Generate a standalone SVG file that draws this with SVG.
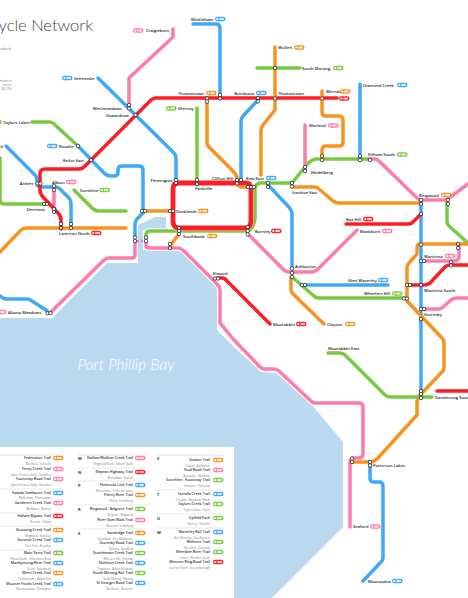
<svg xmlns="http://www.w3.org/2000/svg" width="468" height="598" viewBox="0 0 468 598">
<style>
text{font-family:"Open Sans","Noto Sans","Liberation Sans",sans-serif}
.t{font-size:4.15px;font-weight:600;fill:#1a1a1a}
.e{text-anchor:end}
.n{font-size:3.55px;fill:#333;text-anchor:end;font-weight:600}
.s{font-size:2.7px;fill:#777;text-anchor:end}
.h{font-size:4px;font-weight:700;fill:#333}
.sep{stroke:#ddd;stroke-width:.7;fill:none}
path.l{fill:none;stroke-width:3.5;stroke-linecap:round;stroke-linejoin:round}
path.k{fill:none;stroke:#fff;stroke-width:5.5;stroke-linecap:round;stroke-linejoin:round}
.blue{stroke:#3FA9F5}.red{stroke:#FF1D25}.pink{stroke:#FF7BAC}.green{stroke:#7AC943}.orange{stroke:#F7931E}
.st{fill:#fff;stroke:#111;stroke-width:.7}
</style>
<defs>
<g id="bb"><rect y="-2.200" width="10.500" height="4.400" rx="2.200" fill="#3FA9F5"/><circle cx="2.300" r="1.100" fill="#fff"/><rect x="4.300" y="-1.100" width="4.500" height="2.200" fill="#fff" opacity=".75"/></g>
<g id="br"><rect y="-2.200" width="10.500" height="4.400" rx="2.200" fill="#FF1D25"/><circle cx="2.300" r="1.100" fill="#fff"/><rect x="4.300" y="-1.100" width="4.500" height="2.200" fill="#fff" opacity=".75"/></g>
<g id="bp"><rect y="-2.200" width="10.500" height="4.400" rx="2.200" fill="#FF7BAC"/><circle cx="2.300" r="1.100" fill="#fff"/><rect x="4.300" y="-1.100" width="4.500" height="2.200" fill="#fff" opacity=".75"/></g>
<g id="bg"><rect y="-2.200" width="10.500" height="4.400" rx="2.200" fill="#7AC943"/><circle cx="2.300" r="1.100" fill="#fff"/><rect x="4.300" y="-1.100" width="4.500" height="2.200" fill="#fff" opacity=".75"/></g>
<g id="bo"><rect y="-2.200" width="10.500" height="4.400" rx="2.200" fill="#F7931E"/><circle cx="2.300" r="1.100" fill="#fff"/><rect x="4.300" y="-1.100" width="4.500" height="2.200" fill="#fff" opacity=".75"/></g>
<circle id="o" r="1.750" class="st"/>
</defs>
<rect width="468" height="598" fill="#fff"/>
<polygon id="water" points="0,318 52,318 107,263 138,263 138,225 155,217 166,217 166,228 143,230 143,250 182,251 217,287 217,330 234,347 261,372 276,373 312,405 343,442 343,527 272,598 0,598" fill="#BBDAF0"/>
<rect id="legend-panel" x="0" y="447" width="234" height="151" fill="#fff"/>
<text x="126" y="370" text-anchor="middle" font-size="15.800" font-style="italic" fill="#fff" style="font-family:Lato,'Open Sans',sans-serif;font-weight:300">Port Phillip Bay</text>
<text x="93" y="30.500" text-anchor="end" font-size="16.500" fill="#444" style="font-family:Lato,'Open Sans',sans-serif;font-weight:300">Bicycle Network</text>
<text x="11" y="49.500" text-anchor="end" font-size="3.600" fill="#777">suburb</text>
<text x="11.500" y="82" text-anchor="end" font-size="2.600" fill="#777">mation on</text>
<text x="11.500" y="85.800" text-anchor="end" font-size="2.600" fill="#777">ioneers</text>
<text x="11.500" y="89.600" text-anchor="end" font-size="2.600" fill="#777">942, 354</text>

<g id="connectors">
<path class="l blue" d="M193 24H216Q220 24 220 28V98"/>
<path class="l pink" d="M173 29V37L129 78V107"/>
<path class="l blue" d="M98 78L174 153Q176 155 176 159V182"/>
<path class="l green" d="M32 122H50Q52 122 54 124L78 146"/>
<path class="l blue" d="M78 146L104 173Q107 176 111 176H114Q118 176 118 172V170Q118 166 122 166H139Q143 166 143 170V213L137 219Q135 221 135 225V240"/>
<path class="l blue" d="M6 146L35 175Q37 177 37 180V183Q37 187 41 187H56Q58 187 60 189L69 198Q71 200 71 204V226"/>
<path class="l pink" d="M54 187V211"/>
<path class="l green" d="M0 158V200Q0 204 4 204H46"/>
<path class="l green" d="M74 190L92 208Q95 211 99 211H126"/>
<path class="l orange" d="M0 252L21 230Q23 228 27 228H126"/>
<path class="l blue" d="M0 296L3 298Q4 299 7 299H27Q30 299 32 301L49 312"/>
<path class="k" d="M50 313L104 260Q106 258 109 258H132Q135 258 135 255V240"/>
<path class="l pink" d="M50 313L104 260Q106 258 109 258H132Q135 258 135 255V240"/>
<path class="l pink" stroke-dasharray="2 2" style="stroke-width:2.6;stroke-linecap:butt" d="M137 241H145"/>
<path class="k" d="M146 242V245Q146 248 149 248H178Q181 248 184 251L217 284Q220 287 220 291V323L234 340L260 367Q262 369 265 369H274Q277 369 279 371L312 402Q313 403 316 403H359Q363 403 363 407V454Q363 458 359 458H354Q350 458 350 462V527"/>
<path class="l pink" d="M146 242V245Q146 248 149 248H178Q181 248 184 251L217 284Q220 287 220 291V323L234 340L260 367Q262 369 265 369H274Q277 369 279 371L312 402Q313 403 316 403H359Q363 403 363 407V454Q363 458 359 458H354Q350 458 350 462V527"/>
<path class="l orange" d="M143 211H172"/>
<path class="k" d="M146 238V235Q146 231 150 231H246Q251 231 253 226Q255 222 255 218V189Q255 184 260 183H292L305 167Q310 160 316 159H370"/>
<path class="l green" d="M146 238V235Q146 231 150 231H246Q251 231 253 226Q255 222 255 218V189Q255 184 260 183H292L305 167Q310 160 316 159H370"/>
<path class="l pink" d="M370 159H375Q377 159 379 161L417 198Q419 200 422 200H445Q447 200 449 198L468 184"/>
<path class="l orange" d="M170 246L179 234"/>
<path class="l green" d="M197 108V182"/>
<path class="l orange" d="M207 98V143Q207 145 209 147L233 171Q237 175 237 179V183Q238 187 243 187H250"/>
<path class="l blue" d="M258 100L243 116Q241 118 241 122V183"/>
<path class="k" d="M179 183H245Q251 183 251 189V221Q251 228 245 228H179Q173 228 173 221V189Q173 183 179 183Z"/>
<path class="l red" style="stroke-width:4.800" d="M179 183H245Q251 183 251 189V221Q251 228 245 228H179Q173 228 173 221V189Q173 183 179 183Z"/>
<path class="l red" d="M337 98H156Q153 98 151 100L91 160L84 167Q82 169 79 169H45Q40 169 40 174V190Q40 194 43 197L58 213Q61 216 61 220V229"/>
<path class="l blue" d="M268 185L287 205Q292 210 292 214V268"/>
<path class="l orange" d="M292 187H314Q317 187 319 189L333 201Q336 203 339 203H421"/>
<path class="l pink" d="M305 125V170"/>
<path class="l orange" d="M275 47V110L263 125Q261 127 261 131V175"/>
<path class="l green" d="M257 68H300"/>
<path class="l orange" d="M322 91V112Q322 116 326 116H339Q343 116 343 120V142Q343 146 339 146H326Q322 146 322 150V160"/>
<path class="l blue" d="M360 84V160"/>
<path class="l blue" d="M421 200V398"/>
<path class="l red" d="M346 224H409Q411 224 413 222L421 214"/>
<path class="l pink" d="M357 230L317 270Q314 272 311 272H290Q286 272 284 270L249 235"/>
<path class="l green" d="M292 277L314 296Q316 298 319 298H405"/>
<path class="l blue" d="M304 285H388"/>
<path class="l orange" d="M291 277V290Q291 292 293 294L324 324"/>
<path class="l red" d="M217 278H222Q225 278 227 281L270 324"/>
<path class="l orange" d="M421 244H420Q417 244 417 248V254L409 263Q407 265 407 268V301L442 338Q444 340 444 343V368Q444 370 442 372L421 394L419 396Q417 398 417 402V415L378 458Q374 462 370 462H353"/>
<path class="l blue" d="M370 463V478Q370 482 374 482H379Q383 482 383 486V558Q383 560 381 562L363 581"/>
<path class="l red" d="M437 391H468"/>
<path class="l green" d="M328 353H340Q343 353 345 355L385 395Q387 397 391 397H432"/>
<path class="l green" d="M447 202V222Q447 224 449 226L468 243"/>
<path class="l red" d="M408 285H424Q427 285 430 283L445 267Q447 265 450 265H468"/>
<path class="l pink" d="M422 261H454Q459 261 459 256V245"/>
<path class="l pink" d="M422 309H439Q441 309 443 307L451 300Q454 298 457 298H468"/>
<path class="l orange" d="M421 244H468"/>
</g>

<g id="stations-map">
<g id="n-mickleham"><text class="t e" x="213" y="20.600">Mickleham</text><use href="#bb" x="215" y="19"/><use href="#o" x="220" y="95"/><use href="#o" x="220" y="98.500"/></g>
<g id="n-craigieburn"><use href="#bp" x="133" y="30.500"/><text class="t" x="146" y="32">Craigieburn</text></g>
<g id="n-greenvale"><use href="#bb" x="62" y="78"/><text class="t" x="74" y="79.600">Greenvale</text></g>
<g id="n-westmeadows"><text class="t e" x="122" y="110">Westmeadows</text><use href="#o" x="129" y="105"/><use href="#o" x="129" y="108.500"/></g>
<g id="n-gowanbrae"><text class="t e" x="129" y="117">Gowanbrae</text><use href="#o" x="135.500" y="115"/></g>
<g id="n-taylors"><use href="#bg" x="-9" y="122"/><text class="t" x="3" y="123.600">Taylors Lakes</text></g>
<g id="n-rosalie"><use href="#bb" x="47" y="146"/><text class="t" x="59" y="147.600">Rosalie</text><use href="#o" x="78" y="146"/></g>
<g id="n-park"><text class="t e" x="3" y="147.600">Park</text></g>
<g id="n-keilor"><text class="t e" x="84" y="161.600">Keilor East</text><use href="#o" x="91" y="160"/></g>
<g id="n-ardeer"><text class="t e" x="33.500" y="184.600">Ardeer</text><use href="#o" x="37.500" y="183.500"/><use href="#o" x="40.500" y="183.500"/></g>
<g id="n-albion"><text class="t" x="52" y="183.600">Albion</text><use href="#bp" x="66" y="182"/><use href="#o" x="54" y="186"/><use href="#o" x="54" y="190"/></g>
<g id="n-sunshine"><text class="t" x="80" y="191.600">Sunshine</text><use href="#bg" x="99.500" y="190"/></g>
<g id="n-derrimut"><text class="t e" x="45" y="210.600">Derrimut</text><use href="#o" x="44" y="204"/><use href="#o" x="47" y="204"/><use href="#o" x="54" y="209"/><use href="#o" x="54" y="212"/></g>
<g id="n-laverton"><use href="#o" x="61" y="224"/><use href="#o" x="61" y="228"/><use href="#o" x="71" y="224"/><use href="#o" x="71" y="228"/><text class="t" x="59" y="234.600">Laverton North</text><use href="#br" x="91" y="233"/></g>
<g id="n-altona"><use href="#bp" x="-4" y="312"/><text class="t" x="8" y="313.600">Altona Meadows</text><use href="#o" x="47.500" y="313"/><use href="#o" x="50.500" y="313"/></g>
<g id="n-yarraville"><use href="#o" x="135" y="237.500"/><use href="#o" x="135" y="241"/><use href="#o" x="146" y="237.500"/><use href="#o" x="146" y="241"/></g>
<g id="n-docklands"><use href="#o" x="142" y="211"/><use href="#o" x="145" y="211"/><use href="#o" x="170" y="211"/><use href="#o" x="173" y="211"/><text class="t" x="176" y="212.600">Docklands</text><use href="#bo" x="198" y="211"/></g>
<g id="n-flemington"><text class="t e" x="173" y="181.600">Flemington</text><use href="#o" x="176" y="180"/><use href="#o" x="176" y="183"/></g>
<g id="n-parkville"><use href="#o" x="197" y="180"/><use href="#o" x="197" y="184"/><text class="t" x="195" y="189.600">Parkville</text></g>
<g id="n-glenroy"><use href="#bg" x="166" y="108.500"/><text class="t" x="178" y="110">Glenroy</text></g>
<g id="n-thomastown1"><text class="t e" x="204" y="94.600">Thomastown</text><use href="#bo" x="206" y="93"/><use href="#o" x="207" y="98.500"/><use href="#o" x="207" y="101.500"/></g>
<g id="n-clifton"><text class="t e" x="233" y="179.600">Clifton Hill</text><use href="#o" x="237" y="180"/><use href="#o" x="237" y="183.500"/><use href="#o" x="241" y="180"/></g>
<g id="n-keweast"><text class="t" x="246" y="179.600">Kew East</text><use href="#bb" x="266" y="178"/><use href="#o" x="248" y="187"/><use href="#o" x="251" y="187"/><use href="#o" x="254" y="187"/><use href="#o" x="268" y="183"/><use href="#o" x="268" y="187"/></g>
<g id="n-bundoora"><text class="t e" x="254" y="94.600">Bundoora</text><use href="#bb" x="256" y="93"/><use href="#o" x="258" y="98"/><use href="#o" x="258" y="101.500"/></g>
<g id="n-thomastown2"><text class="t" x="278" y="95">Thomastown</text><use href="#o" x="275" y="98.500"/></g>
<g id="n-wollert"><text class="t" x="278" y="49">Wollert</text><use href="#bo" x="294" y="47.500"/></g>
<g id="n-southmorang"><text class="t" x="302" y="69.600">South Morang</text><use href="#bg" x="333" y="68"/><use href="#o" x="275" y="68"/></g>
<g id="n-mernda"><text class="t" x="326" y="93">Mernda</text><use href="#bo" x="340" y="91.500"/><use href="#o" x="322" y="98.500"/><use href="#br" x="339" y="98.500"/></g>
<g id="n-macleod"><text class="t" x="309" y="127">Macleod</text><use href="#bp" x="328" y="125.500"/></g>
<g id="n-heidelberg"><use href="#o" x="305" y="167"/><use href="#o" x="305" y="171"/><text class="t" x="311" y="173.600">Heidelberg</text></g>
<g id="n-ivanhoe"><use href="#o" x="292" y="183"/><use href="#o" x="292" y="186.500"/><text class="t" x="292" y="193.600">Ivanhoe East</text></g>
<g id="n-diamond"><text class="t" x="363" y="86.600">Diamond Creek</text><use href="#bb" x="397" y="85"/></g>
<g id="n-eltham"><use href="#o" x="322" y="156"/><use href="#o" x="322" y="160"/><use href="#o" x="360" y="156"/><use href="#o" x="360" y="160"/><use href="#o" x="370" y="160"/><text class="t" x="368" y="156">Eltham South</text><use href="#bg" x="397" y="154.500"/></g>
<g id="n-ringwood"><text class="t" x="419" y="196.600">Ringwood</text><use href="#bo" x="441" y="195"/><use href="#o" x="421" y="200"/><use href="#o" x="421" y="204"/><use href="#o" x="448" y="200"/><use href="#o" x="448" y="204"/></g>
<g id="n-boxhill"><text class="t" x="346" y="220.600">Box Hill</text><use href="#br" x="363" y="219"/><use href="#o" x="421" y="214"/></g>
<g id="n-blackburn"><text class="t" x="360" y="232.600">Blackburn</text><use href="#bp" x="382" y="231"/></g>
<g id="n-burnley"><use href="#o" x="247.700" y="227"/><use href="#o" x="247.700" y="231"/><use href="#o" x="247.700" y="234.500"/><text class="t" x="255" y="232.600">Burnley</text><use href="#br" x="271" y="231"/></g>
<g id="n-southbank"><use href="#o" x="179" y="228"/><use href="#o" x="179" y="231"/><use href="#o" x="179" y="234"/><use href="#o" x="170" y="244"/><use href="#o" x="170" y="248"/><text class="t" x="183" y="237.600">Southbank</text><use href="#bo" x="207" y="236"/></g>
<g id="n-ashburton"><text class="t" x="295" y="268">Ashburton</text><use href="#o" x="292" y="268.500"/><use href="#o" x="292" y="273"/><use href="#o" x="292" y="277"/></g>
<g id="n-glenwaverley"><text class="t" x="348" y="281.600">Glen Waverley</text><use href="#bb" x="378" y="280"/><use href="#o" x="302" y="285"/><use href="#o" x="305" y="285"/></g>
<g id="n-wheelers"><text class="t" x="364" y="295">Wheelers Hill</text><use href="#bg" x="392" y="293.500"/><use href="#o" x="404" y="298.500"/><use href="#o" x="407" y="298.500"/></g>
<g id="n-clayton"><text class="t" x="327" y="325.600">Clayton</text><use href="#bo" x="345" y="324"/></g>
<g id="n-moorabbin"><text class="t" x="273" y="325.600">Moorabbin</text><use href="#br" x="296" y="324"/></g>
<g id="n-elwood"><text class="t" x="213" y="275">Elwood</text><use href="#o" x="215" y="278.500"/><use href="#o" x="218" y="278.500"/></g>
<g id="n-wantirna"><text class="t" x="424" y="257.600">Wantirna</text><use href="#bp" x="445" y="256"/><use href="#o" x="421" y="244.500"/><use href="#o" x="458" y="244"/><use href="#o" x="458" y="248"/><use href="#o" x="421" y="261"/><use href="#o" x="424" y="261"/></g>
<g id="n-wantirnasouth"><text class="t" x="424" y="291.600">Wantirna South</text><use href="#o" x="451" y="262"/><use href="#o" x="451" y="265.500"/><use href="#o" x="407" y="285"/><use href="#o" x="410" y="285"/><use href="#o" x="421" y="285"/></g>
<g id="n-scoresby"><text class="t" x="424" y="315.600">Scoresby</text><use href="#o" x="421" y="309"/><use href="#o" x="424" y="309"/><use href="#o" x="421" y="319"/></g>
<g id="n-moorabbineast"><text class="t" x="328" y="349.600">Moorabbin East</text></g>
<g id="n-dandenong"><use href="#o" x="421" y="391"/><use href="#o" x="421" y="394"/><use href="#o" x="421" y="398"/><text class="t" x="435" y="399">Dandenong South</text></g>
<g id="n-patterson"><use href="#o" x="352" y="458.500"/><use href="#o" x="352" y="462"/><use href="#o" x="370" y="462"/><use href="#o" x="370" y="465.500"/><text class="t" x="373" y="467">Patterson Lakes</text></g>
<g id="n-seaford"><text class="t" x="353" y="528">Seaford</text><use href="#bp" x="370" y="526.500"/></g>
<g id="n-moorooduc"><text class="t" x="368" y="582.600">Moorooduc</text><use href="#bb" x="392" y="581"/></g>
</g>

<g id="legend">
<path class="sep" d="M0 455H64M0 489H64M0 513H64M0 526H64M0 550H64M78 455H146M78 468H146M78 481H146M78 505H146M78 529H146M157 455H224M157 490H224M157 514H224M157 528H224"/>
<text class="h" x="78" y="459.500">M</text><text class="h" x="78" y="473.500">N</text><text class="h" x="78" y="486.500">P</text><text class="h" x="78" y="510.500">R</text><text class="h" x="78" y="534.500">S</text>
<text class="h" x="157" y="459.500">S</text><text class="h" x="157" y="495.500">T</text><text class="h" x="157" y="519.500">U</text><text class="h" x="157" y="533.500">W</text>
<g id="leg-1">
<text class="n" x="51" y="459.400">Federation Trail</text><text class="s" x="51" y="465">Werribee - Yarraville</text><use href="#bo" x="53" y="458"/>
<text class="n" x="51" y="470.400">Ferny Creek Trail</text><text class="s" x="51" y="475.500">Upper Ferntree Gully - Sassafras</text><use href="#bp" x="53" y="469"/>
<text class="n" x="51" y="480.400">Footscray Road Trail</text><text class="s" x="51" y="485.500">Upper Ferntree Gully - Sassafras</text><use href="#bp" x="53" y="479"/>
<text class="n" x="51" y="494.400">Galada Tamboore Trail</text><text class="s" x="51" y="498.500">Mickleham - Thomastown</text><use href="#bb" x="53" y="493"/>
<text class="n" x="51" y="504.400">Gardiners Creek Trail</text><text class="s" x="51" y="509.500">Blackburn - Burnley</text><use href="#bp" x="53" y="503"/>
<text class="n" x="51" y="517.400">Hallam Bypass Trail</text><text class="s" x="51" y="522.500">Berwick - Hallam</text><use href="#br" x="53" y="516"/>
<text class="n" x="51" y="531.400">Koonung Creek Trail</text><text class="s" x="51" y="536.500">Ringwood - Kew East</text><use href="#bo" x="53" y="530"/>
<text class="n" x="51" y="541.400">Kororoit Creek Trail</text><text class="s" x="51" y="546.500">Deer Park - Brooklyn</text><use href="#bb" x="53" y="540"/>
<text class="n" x="51" y="554.400">Main Yarra Trail</text><text class="s" x="51" y="559.500">Eltham South - Fishermans Bend</text><use href="#bg" x="53" y="553"/>
<text class="n" x="51" y="564.400">Maribyrnong River Trail</text><text class="s" x="51" y="570">Keilor - Spotswood</text><use href="#bb" x="53" y="563"/>
<text class="n" x="51" y="574.400">Merri Creek Trail</text><text class="s" x="51" y="580">Thomastown - Abbotsford</text><use href="#bo" x="53" y="573"/>
<text class="n" x="51" y="585.400">Moonee Ponds Creek Trail</text><text class="s" x="51" y="590">Westmeadows - Flemington</text><use href="#bb" x="53" y="584"/>
</g>
<g id="leg-2">
<text class="n" x="133" y="459.400">Hallam/Mullum Creek Trail</text><text class="s" x="133" y="465">Ringwood North - Eltham South</text><use href="#bp" x="135" y="458"/>
<text class="n" x="133" y="473.400">Nepean Highway Trail</text><text class="s" x="133" y="478.500">Moorabbin - Elwood</text><use href="#br" x="135" y="472"/>
<text class="n" x="133" y="486.400">Peninsula Link Trail</text><text class="s" x="133" y="491.500">Moorooduc - Patterson Lakes</text><use href="#bb" x="135" y="485"/>
<text class="n" x="133" y="496.400">Plenty River Trail</text><text class="s" x="133" y="501.500">Plenty - Heidelberg</text><use href="#bo" x="135" y="495"/>
<text class="n" x="133" y="510.400">Ringwood - Belgrave Trail</text><text class="s" x="133" y="516">Belgrave - Ringwood</text><use href="#bg" x="135" y="509"/>
<text class="n" x="133" y="521.400">River Gum Walk Trail</text><text class="s" x="133" y="526.500">Macleod - Heidelberg</text><use href="#bp" x="135" y="520"/>
<text class="n" x="133" y="534.400">Sandridge Trail</text><text class="s" x="133" y="539.500">Southbank - Port Melbourne</text><use href="#bo" x="135" y="533"/>
<text class="n" x="133" y="544.400">Scoresby Road Trail</text><text class="s" x="133" y="550">Belcony - Knoxfield</text><use href="#bb" x="135" y="543"/>
<text class="n" x="133" y="554.400">Scotchmans Creek Trail</text><text class="s" x="133" y="560">Wheelers Hill - Hollyoak</text><use href="#bg" x="135" y="553"/>
<text class="n" x="133" y="564.400">Skeleton Creek Trail</text><text class="s" x="133" y="570">Truganina - Altona Meadows</text><use href="#bb" x="135" y="563"/>
<text class="n" x="133" y="574.400">South Morang Rail Trail</text><text class="s" x="133" y="580">South Morang - Mernda</text><use href="#bg" x="135" y="573"/>
<text class="n" x="133" y="584.400">St Georges Road Trail</text><text class="s" x="133" y="590">Northcote - Reservoir</text><use href="#bb" x="135" y="583"/>
</g>
<g id="leg-3">
<text class="n" x="210" y="461.400">Station Trail</text><text class="s" x="210" y="466.500">Clayton - Ashburton</text><use href="#bo" x="213" y="460"/>
<text class="n" x="210" y="471.400">Stud Road Trail</text><text class="s" x="210" y="476.500">Bayswater - Wantirna</text><use href="#bp" x="213" y="470"/>
<text class="n" x="210" y="481.400">Sunshine - Footscray Trail</text><text class="s" x="210" y="486.500">Sunshine - Footscray</text><use href="#bg" x="213" y="480"/>
<text class="n" x="210" y="495.400">Tarralla Creek Trail</text><text class="s" x="210" y="501">Croydon - Bayswater North</text><use href="#bb" x="213" y="494"/>
<text class="n" x="210" y="505.400">Taylors Creek Trail</text><text class="s" x="210" y="511">Taylors Lakes - Keilor</text><use href="#bg" x="213" y="504"/>
<text class="n" x="210" y="519.400">Upfield Path</text><text class="s" x="210" y="524.500">Glenroy - Parkville</text><use href="#bg" x="213" y="518"/>
<text class="n" x="210" y="533.400">Waverley Rail Trail</text><text class="s" x="210" y="538.500">Glen Waverley - East Malvern</text><use href="#bb" x="213" y="532"/>
<text class="n" x="210" y="543.400">Wellness Trail</text><text class="s" x="210" y="548.500">Ravenhall - Derrimut</text><use href="#bg" x="213" y="542"/>
<text class="n" x="210" y="553.400">Werribee River Trail</text><text class="s" x="210" y="559">Tarneit - Werribee South</text><use href="#bg" x="213" y="552"/>
<text class="n" x="210" y="563.400">Western Ring Road Trail</text><text class="s" x="210" y="569">Laverton North - Greensborough</text><use href="#br" x="213" y="562"/>
</g>
</g>
</svg>
